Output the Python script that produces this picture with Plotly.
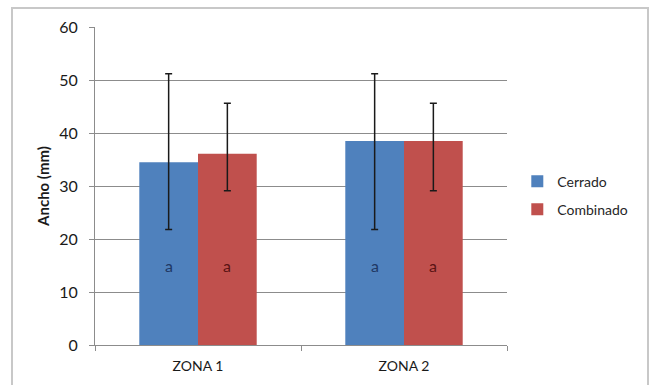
import plotly.graph_objects as go

categories = ["ZONA 1", "ZONA 2"]
cerrado = [34.5, 38.5]
cerrado_err_plus = [16.7, 12.7]
cerrado_err_minus = [12.7, 16.7]
combinado = [36.1, 38.5]
combinado_err_plus = [9.5, 7.1]
combinado_err_minus = [7.0, 9.4]
letters_cerrado = ["a", "a"]
letters_combinado = ["a", "a"]
letter_y = 15

fig = go.Figure()
fig.add_trace(go.Bar(
    name="Cerrado", x=categories, y=cerrado, marker_color="#4F81BD",
    marker_line_width=0, legendgroup="g1",
    error_y=dict(type="data", symmetric=False, array=cerrado_err_plus,
                 arrayminus=cerrado_err_minus, color="#1a1a1a", thickness=1.5, width=3.5),
))
fig.add_trace(go.Bar(
    name="Combinado", x=categories, y=combinado, marker_color="#C0504D",
    marker_line_width=0, legendgroup="g2",
    error_y=dict(type="data", symmetric=False, array=combinado_err_plus,
                 arrayminus=combinado_err_minus, color="#1a1a1a", thickness=1.5, width=3.5),
))

# letters inside bars, placed with the category axis offsets
for i, cat in enumerate(categories):
    fig.add_annotation(x=cat, y=letter_y, text=letters_cerrado[i], showarrow=False,
                       xshift=-29, font=dict(size=16, color="#1F3864", family="Lato"))
    fig.add_annotation(x=cat, y=letter_y, text=letters_combinado[i], showarrow=False,
                       xshift=29, font=dict(size=16, color="#5A1414", family="Lato"))

# outer chart frame
fig.add_shape(type="rect", xref="paper", yref="paper",
              x0=-83/412, x1=553/412, y0=-60/318, y1=(345-8)/318,
              line=dict(color="#C8C8C8", width=2), fillcolor="rgba(0,0,0,0)", layer="below")

fig.update_layout(
    width=655, height=385,
    margin=dict(l=95, r=148, t=27, b=40),
    paper_bgcolor="white", plot_bgcolor="white",
    barmode="group", bargap=0.43, bargroupgap=0,
    font=dict(family="Lato", size=14, color="#262626"),
    showlegend=True,
    legend=dict(x=1.025, xanchor="left", y=0.47, yanchor="middle",
                font=dict(size=14, color="#262626"), tracegroupgap=7,
                itemwidth=30, bgcolor="rgba(0,0,0,0)"),
    xaxis=dict(type="category", showline=True, linecolor="#8C8C8C", linewidth=1,
               ticks="outside", tickson="boundaries", ticklen=5, tickcolor="#8C8C8C",
               ticklabelstandoff=8,
               tickfont=dict(size=14, color="#1a1a1a"), showgrid=False),
    yaxis=dict(range=[0, 60], dtick=10, showline=True, linecolor="#8C8C8C", linewidth=1,
               ticks="outside", ticklen=5, tickcolor="#8C8C8C", ticklabelstandoff=8,
               gridcolor="#8C8C8C", gridwidth=1, zeroline=False,
               tickfont=dict(size=16, color="#1a1a1a"),
               title=dict(text="<b>Ancho (mm)</b>", font=dict(size=15, color="#1a1a1a"), standoff=5)),
)

fig.write_html("out.html", post_script="document.body.style.margin='0';",
               config={"displayModeBar": False})
